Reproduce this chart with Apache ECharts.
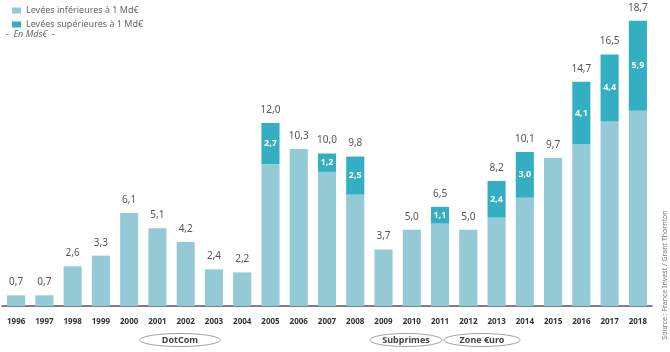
<!DOCTYPE html>
<html>
<head>
<meta charset="utf-8">
<script src="https://cdn.jsdelivr.net/npm/echarts@6/dist/echarts.min.js"></script>
<style>
  html, body { margin: 0; padding: 0; background: #fff; }
  #main { width: 670px; height: 352px; }
</style>
</head>
<body>
<div id="main"></div>
<script>
const years = ['1996', '1997', '1998', '1999', '2000', '2001', '2002', '2003', '2004', '2005', '2006', '2007',
  '2008', '2009', '2010', '2011', '2012', '2013', '2014', '2015', '2016', '2017', '2018']
// levées inférieures à 1 Md€
const inferieures = [0.7, 0.7, 2.6, 3.3, 6.1, 5.1, 4.2, 2.4, 2.2, 9.3, 10.3, 8.8,
  7.3, 3.7, 5.0, 5.4, 5.0, 5.8, 7.1, 9.7, 10.6, 12.1, 12.8]
// levées supérieures à 1 Md€
const superieures = [0, 0, 0, 0, 0, 0, 0, 0, 0, 2.7, 0, 1.2,
  2.5, 0, 0, 1.1, 0, 2.4, 3.0, 0, 4.1, 4.4, 5.9]
const totaux = inferieures.map((v, i) => Math.round((v + superieures[i]) * 10) / 10)

const fmt = (v) => v.toFixed(1).replace('.', ',')
const font = '"Noto Sans", sans-serif'

const chart = echarts.init(document.getElementById('main'))

// ellipse autour d'un libellé de période
const bulle = (cx, rx, text) => ({
  type: 'ellipse',
  shape: { cx, cy: 340, rx, ry: 6.5 },
  style: { fill: '#fff', stroke: '#888', lineWidth: 0.8 },
  textContent: { style: { text, fontSize: 9, fontWeight: 'bold', fill: '#444', fontFamily: font } },
  textConfig: { position: 'inside' }
})

chart.setOption({
  animation: false,
  textStyle: { fontFamily: font },
  legend: {
    orient: 'vertical',
    left: 7,
    top: 1,
    itemWidth: 9,
    itemHeight: 6,
    itemGap: 5,
    icon: 'rect',
    textStyle: { fontSize: 9, color: '#666', fontFamily: font },
    data: ['Levées inférieures à 1 Md€', 'Levées supérieures à 1 Md€']
  },
  grid: { left: 2, right: 18, top: 1, bottom: 46 },
  xAxis: {
    type: 'category',
    data: years,
    offset: 7,
    axisLine: { lineStyle: { color: '#555', width: 1.5 } },
    axisTick: { show: false },
    axisLabel: { fontSize: 8, fontWeight: 'bold', color: '#333', margin: 5, interval: 0 }
  },
  yAxis: { type: 'value', min: 0, max: 20, show: false },
  series: [
    {
      name: 'Levées inférieures à 1 Md€',
      type: 'bar',
      stack: 'a',
      barWidth: '64%',
      itemStyle: { color: '#93cad6' },
      data: inferieures
    },
    {
      name: 'Levées supérieures à 1 Md€',
      type: 'bar',
      stack: 'a',
      itemStyle: { color: '#33aec2' },
      label: {
        show: true,
        position: 'inside',
        color: '#fff',
        fontWeight: 'bold',
        fontSize: 9,
        formatter: (p) => (p.value > 0 ? fmt(p.value) : '')
      },
      data: superieures.map((v) => (v > 0 ? v : null))
    },
    {
      name: 'total',
      type: 'bar',
      barGap: '-100%',
      barWidth: '64%',
      itemStyle: { color: 'transparent' },
      silent: true,
      z: 0,
      label: {
        show: true,
        position: 'top',
        distance: 8,
        color: '#555',
        fontSize: 10,
        formatter: (p) => fmt(p.value)
      },
      data: totaux
    }
  ],
  graphic: [
    {
      type: 'text',
      left: 6,
      top: 30,
      style: { text: '-  En Mds€  -', fontSize: 9, fontStyle: 'italic', fill: '#666', fontFamily: font }
    },
    {
      type: 'text',
      x: 665,
      y: 275,
      rotation: Math.PI / 2,
      style: {
        text: 'Source : France Invest / Grant Thornton',
        fontSize: 7,
        fill: '#777',
        align: 'center',
        verticalAlign: 'middle',
        fontFamily: font
      }
    },
    bulle(180, 40, 'DotCom'),
    bulle(406, 36, 'Subprimes'),
    bulle(482, 38, 'Zone €uro')
  ]
})
</script>
</body>
</html>
